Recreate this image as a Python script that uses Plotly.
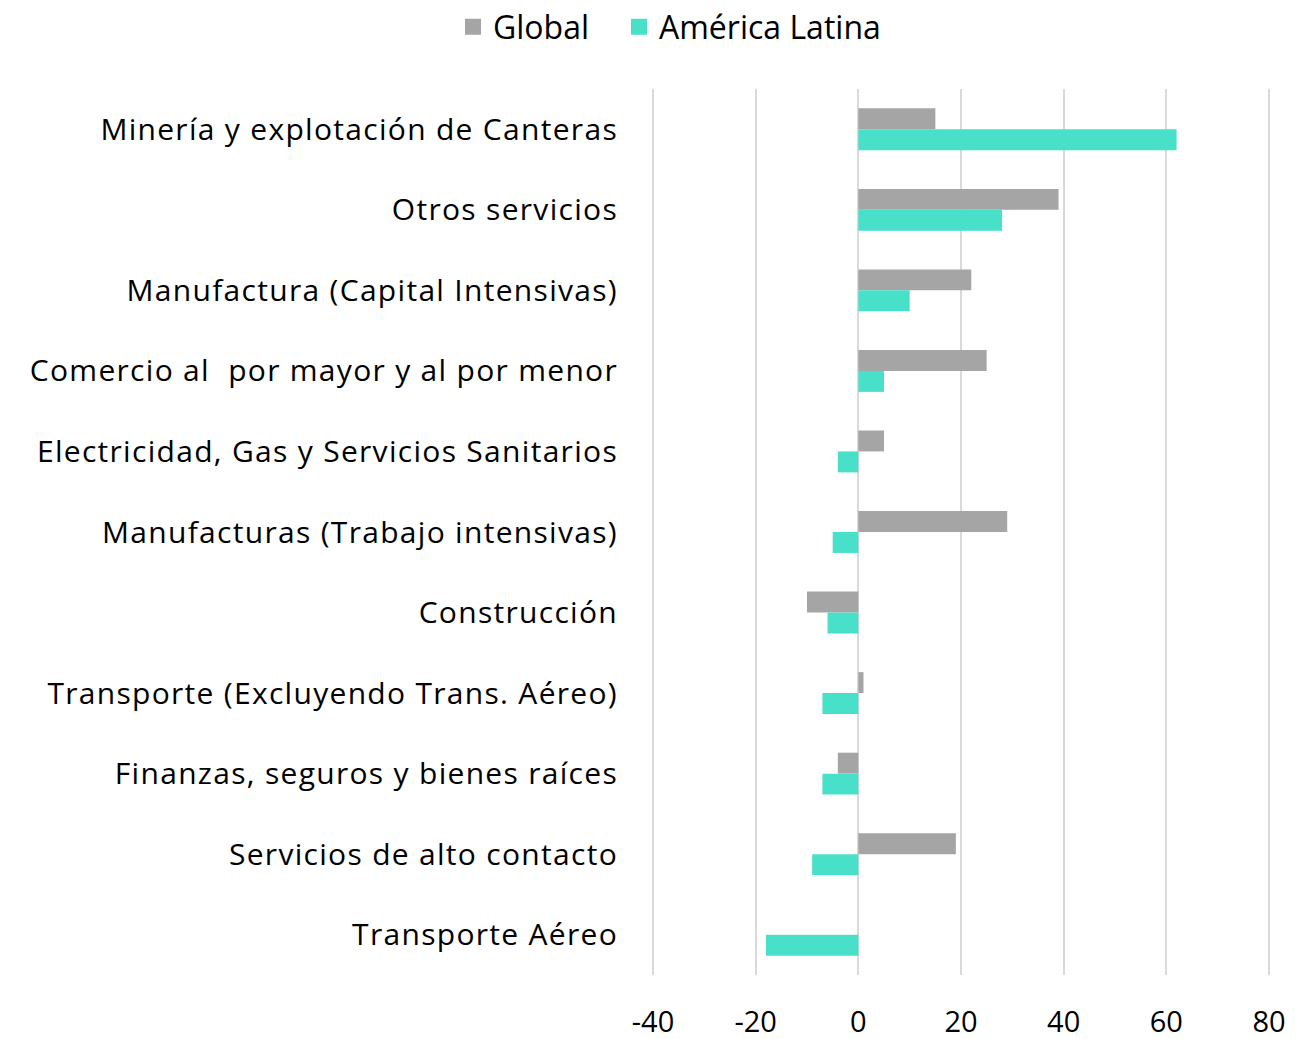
import plotly.graph_objects as go

categories = [
    "Minería y explotación de Canteras",
    "Otros servicios",
    "Manufactura (Capital Intensivas)",
    "Comercio al  por mayor y al por menor",
    "Electricidad, Gas y Servicios Sanitarios",
    "Manufacturas (Trabajo intensivas)",
    "Construcción",
    "Transporte (Excluyendo Trans. Aéreo)",
    "Finanzas, seguros y bienes raíces",
    "Servicios de alto contacto",
    "Transporte Aéreo",
]
global_vals = [15, 39, 22, 25, 5, 29, -10, 1, -4, 19, 0]
latam_vals = [62, 28, 10, 5, -4, -5, -6, -7, -7, -9, -18]
x_ticks = [-40, -20, 0, 20, 40, 60, 80]
series_names = ["Global", "América Latina"]
series_colors = ["#a5a5a5", "#48e0c8"]

FONT = "Open Sans"
W, H = 1316, 1039

fig = go.Figure()
for name, vals, col in zip(series_names, [global_vals, latam_vals], series_colors):
    fig.add_trace(go.Bar(y=categories, x=vals, orientation="h", name=name,
                         marker=dict(color=col, line=dict(width=0)), showlegend=False))
# legend entries with square swatches, one legend box per series
for name, col, lg in zip(series_names, series_colors, ["legend", "legend2"]):
    fig.add_trace(go.Scatter(x=[None], y=[None], mode="markers", name=name, legend=lg,
                             marker=dict(symbol="square", size=20, color=col)))

legend_common = dict(orientation="h", xanchor="left", xref="container",
                     y=1 - 27 / H, yanchor="middle", yref="container",
                     font=dict(size=32), itemwidth=30, bgcolor="rgba(0,0,0,0)")

fig.update_layout(
    width=W, height=H,
    barmode="group", bargap=0.48, bargroupgap=0,
    plot_bgcolor="white", paper_bgcolor="white",
    margin=dict(l=652, r=46, t=89, b=64, autoexpand=False),
    font=dict(family=FONT, size=30, color="#000000"),
    legend=dict(x=453 / W, **legend_common),
    legend2=dict(x=619 / W, **legend_common),
    showlegend=True,
)
fig.update_xaxes(range=[-40.2, 80.2], tickvals=x_ticks, ticktext=[str(v) for v in x_ticks],
                 showgrid=True, gridcolor="#d9d9d9", gridwidth=2,
                 zeroline=True, zerolinecolor="#d9d9d9", zerolinewidth=2,
                 showline=False, ticks="", ticklabelstandoff=27, automargin=False,
                 tickfont=dict(size=29))
fig.update_yaxes(autorange="reversed", showgrid=False, zeroline=False, showline=False,
                 ticks="", ticklabelstandoff=33, automargin=False, tickfont=dict(size=30))

post_js = """
document.body.style.margin = '0';
document.body.style.overflow = 'hidden';
var gd = document.getElementById('{plot_id}');
function spaceText(){
  gd.querySelectorAll('.ytick text').forEach(function(t){
    t.style.letterSpacing = '1.3px';
  });
}
spaceText();
gd.on('plotly_afterplot', spaceText);
"""

fig.write_html("out.html", post_script=post_js, config={"displayModeBar": False})
